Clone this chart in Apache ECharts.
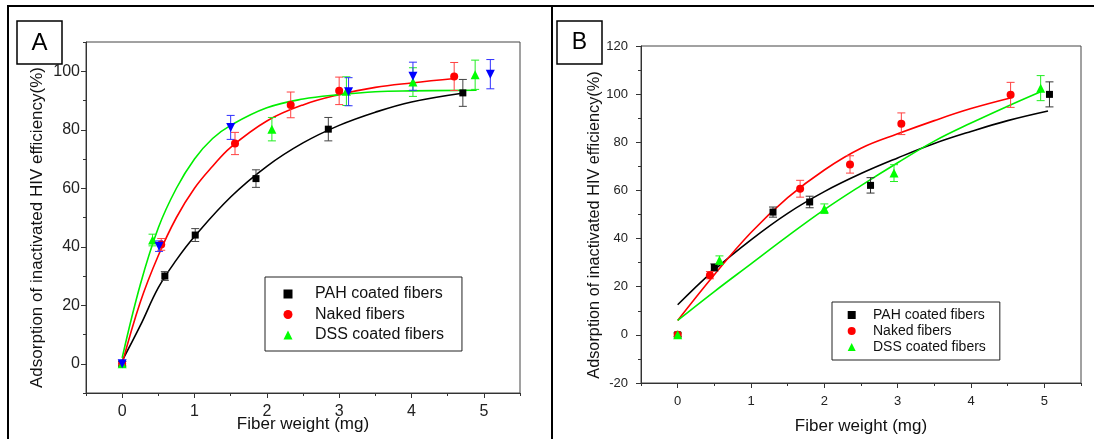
<!DOCTYPE html>
<html>
<head>
<meta charset="utf-8">
<script src="https://cdn.jsdelivr.net/npm/echarts@6/dist/echarts.min.js"></script>
<style>
  html, body { margin: 0; padding: 0; background: #fff; }
  #chart { width: 1094px; height: 439px; }
</style>
</head>
<body>
<div id="chart"></div>
<script>
// panel A measured points: x (mg), y (%), error
var pahAX = [0, 0.59, 1.01, 1.85, 2.85, 4.71];
var pahAY = [0, 30, 44, 63.3, 80.2, 92.6];
var pahAErr = [0.8, 1.5, 2.2, 3, 4, 4.6];
var nakedAX = [0, 0.54, 1.56, 2.33, 3.0, 4.59];
var nakedAY = [0, 40.8, 75.3, 88.5, 93.3, 98.2];
var nakedAErr = [0.8, 2, 3.8, 4.4, 4.7, 4.8];
var dssAX = [0, 0.42, 2.07, 3.1, 4.02, 4.88];
var dssAY = [0, 42.3, 80.2, 93.2, 96.3, 98.8];
var dssAErr = [0.8, 2, 4, 4.9, 4.9, 5];
var blueAX = [0, 0.51, 1.5, 3.13, 4.02, 5.09];
var blueAY = [0, 40.2, 80.8, 93, 98.3, 99];
var blueAErr = [0.8, 1.8, 4.1, 4.8, 4.8, 5];

// panel A fitted curves
var pahFitAX = [0, 0.25, 0.5, 0.75, 1, 1.5, 2, 2.5, 3, 3.5, 4, 4.7];
var pahFitAY = [1, 13, 26, 35.5, 43.5, 57, 67.5, 75.5, 81.5, 86, 89.5, 92.5];
var nakedFitAX = [0, 0.25, 0.5, 0.75, 1, 1.25, 1.5, 2, 2.5, 3, 3.5, 4, 4.6];
var nakedFitAY = [0, 21, 37, 50, 60, 67.5, 74, 83, 88.5, 92, 94.5, 96, 97.5];
var dssFitAX = [0, 0.25, 0.5, 0.75, 1, 1.25, 1.5, 2, 2.5, 3, 3.5, 4, 4.9];
var dssFitAY = [2, 27, 46.5, 60, 70, 77, 81.5, 87.5, 90.5, 92, 93, 93.3, 93.5];

// panel B measured points
var pahBX = [0, 0.5, 1.3, 1.8, 2.63, 5.07];
var pahBY = [0, 28, 51, 55.2, 62.1, 99.9];
var pahBErr = [0.8, 1.5, 2.1, 2.4, 3.2, 5.2];
var nakedBX = [0, 0.44, 1.67, 2.35, 3.05, 4.54];
var nakedBY = [0, 24.8, 60.7, 70.8, 87.7, 99.7];
var nakedBErr = [0.8, 1.5, 3.5, 3.6, 4.5, 5.2];
var dssBX = [0, 0.57, 2.0, 2.95, 4.95];
var dssBY = [0, 31, 52.4, 67.2, 102.5];
var dssBErr = [0.8, 1.8, 2, 3.5, 5.2];

// panel B fitted curves
var pahFitBX = [0, 0.5, 1, 1.5, 2, 2.5, 3, 3.5, 4, 4.5, 5.05];
var pahFitBY = [12.5, 27, 39.5, 50.5, 59.5, 67, 73.5, 79.5, 84.5, 89, 93];
var nakedFitBX = [0, 0.5, 1, 1.5, 2, 2.5, 3, 3.5, 4, 4.55];
var nakedFitBY = [6, 25, 42.5, 57, 68.5, 77.5, 83.5, 89, 94, 98.5];
var dssFitBX = [0, 0.5, 1, 1.5, 2, 2.5, 3, 3.5, 4, 4.5, 4.95];
var dssFitBY = [6, 18, 29.5, 41, 52, 62, 71.5, 80.5, 88, 95, 101];

var xTicks = [0, 1, 2, 3, 4, 5];
var xMinorTicks = [-0.5, 0.5, 1.5, 2.5, 3.5, 4.5, 5.5];
var yTicksA = [0, 20, 40, 60, 80, 100];
var yMinorA = [-10, 10, 30, 50, 70, 90, 110];
var yTicksB = [-20, 0, 20, 40, 60, 80, 100, 120];
var yMinorB = [-10, 10, 30, 50, 70, 90, 110];

var names = ['PAH coated fibers', 'Naked fibers', 'DSS coated fibers'];
var FONT = 'Liberation Sans, Arial, sans-serif';

function zip(a, b, c) {
    var out = [];
    for (var i = 0; i < a.length; i++) {
        out.push(c ? [a[i], b[i], c[i]] : [a[i], b[i]]);
    }
    return out;
}

function xAxes(grid, labelSize, labelMargin, nameGap) {
    return [{
        gridIndex: grid, type: 'value', position: 'bottom', min: -0.5, max: 5.5, interval: 0.5,
        name: 'Fiber weight (mg)', nameLocation: 'middle', nameGap: nameGap, nameMoveOverlap: false,
        nameTextStyle: { fontSize: 17, color: '#111', fontFamily: FONT },
        axisLine: { onZero: false, lineStyle: { color: '#333', width: 1 } },
        axisTick: { customValues: xTicks, length: 5, lineStyle: { color: '#333' } },
        axisLabel: { customValues: xTicks, fontSize: labelSize, color: '#222', margin: labelMargin, fontFamily: FONT },
        splitLine: { show: false }
    }, {
        gridIndex: grid, type: 'value', position: 'bottom', min: -0.5, max: 5.5, interval: 0.5,
        axisLine: { show: false, onZero: false },
        axisTick: { customValues: xMinorTicks, length: 3, lineStyle: { color: '#333' } },
        axisLabel: { show: false },
        splitLine: { show: false }
    }];
}

function yAxes(grid, min, max, ticks, minor, labelSize, labelMargin, nameGap, nameSize, shift) {
    return [{
        gridIndex: grid, type: 'value', position: 'left', min: min, max: max, interval: 10,
        name: 'Adsorption of inactivated HIV efficiency(%)', nameLocation: 'middle', nameGap: nameGap,
        nameTextStyle: { fontSize: nameSize, color: '#111', fontFamily: FONT, padding: [0, shift, 0, 0] },
        axisLine: { onZero: false, lineStyle: { color: '#333', width: 1 } },
        axisTick: { customValues: ticks, length: 5, lineStyle: { color: '#333' } },
        axisLabel: { customValues: ticks, fontSize: labelSize, color: '#222', margin: labelMargin, fontFamily: FONT },
        splitLine: { show: false }
    }, {
        gridIndex: grid, type: 'value', position: 'left', min: min, max: max, interval: 10,
        axisLine: { show: false, onZero: false },
        axisTick: { customValues: minor, length: 3, lineStyle: { color: '#333' } },
        axisLabel: { show: false },
        splitLine: { show: false }
    }];
}

function fitLine(xi, yi, xs, ys, color) {
    return {
        type: 'line', xAxisIndex: xi, yAxisIndex: yi, data: zip(xs, ys),
        smooth: 0.4, showSymbol: false, silent: true, z: 2,
        lineStyle: { color: color, width: 1.6 }
    };
}

function errBars(xi, yi, xs, ys, es, color) {
    return {
        type: 'custom', xAxisIndex: xi, yAxisIndex: yi, data: zip(xs, ys, es), silent: true, z: 3,
        encode: { x: 0, y: 1 },
        renderItem: function (params, api) {
            var x = api.value(0), y = api.value(1), e = api.value(2);
            var top = api.coord([x, y + e]);
            var bot = api.coord([x, y - e]);
            var st = { stroke: color, lineWidth: 1 };
            return {
                type: 'group', children: [
                    { type: 'line', shape: { x1: top[0], y1: top[1], x2: bot[0], y2: bot[1] }, style: st },
                    { type: 'line', shape: { x1: top[0] - 4, y1: top[1], x2: top[0] + 4, y2: top[1] }, style: st },
                    { type: 'line', shape: { x1: bot[0] - 4, y1: bot[1], x2: bot[0] + 4, y2: bot[1] }, style: st }
                ]
            };
        }
    };
}

function points(name, xi, yi, xs, ys, color, symbol, size, rotate) {
    return {
        name: name, type: 'scatter', xAxisIndex: xi, yAxisIndex: yi, data: zip(xs, ys),
        symbol: symbol, symbolSize: size, symbolRotate: rotate || 0, z: 4,
        itemStyle: { color: color, opacity: 1 }
    };
}

// legend with square icons; textPad puts the gap between marker and text
function legendBox(left, top, icon, gap, pad, textPad, fontSize, lineHeight) {
    return {
        data: names, orient: 'vertical', left: left, top: top,
        itemWidth: icon, itemHeight: icon, itemGap: gap,
        padding: pad,
        borderColor: '#222', borderWidth: 1,
        formatter: function (n) { return '{t|' + n + '}'; },
        textStyle: {
            fontSize: fontSize, lineHeight: lineHeight, color: '#111', fontFamily: FONT,
            rich: { t: { fontSize: fontSize, lineHeight: lineHeight, color: '#111', fontFamily: FONT, padding: [0, 0, 0, textPad] } }
        }
    };
}

var chart = echarts.init(document.getElementById('chart'), null, { renderer: 'canvas' });

var option = {
    backgroundColor: '#fff',
    animation: false,
    grid: [
        { left: 86, top: 42, width: 434, height: 351, show: true, borderColor: '#444', borderWidth: 1, outerBoundsMode: 'none' },
        { left: 641, top: 46, width: 440, height: 337, show: true, borderColor: '#444', borderWidth: 1, outerBoundsMode: 'none' }
    ],
    xAxis: xAxes(0, 16, 11, 23).concat(xAxes(1, 13, 12, 35)),
    yAxis: yAxes(0, -10, 110, yTicksA, yMinorA, 16, 6, 40, 17, 20)
        .concat(yAxes(1, -20, 120, yTicksB, yMinorB, 13, 13, 27, 16.3, 21)),
    legend: [
        legendBox(265, 277, 9, 0.5, [7, 18, 6, 18.5], 17.5, 16, 20),
        legendBox(832, 302, 8, 0, [5, 14, 5, 15.7], 12.3, 14, 16)
    ],
    graphic: [
        { type: 'line', shape: { x1: 7, y1: 6, x2: 1094, y2: 6 }, style: { stroke: '#000', lineWidth: 2 } },
        { type: 'line', shape: { x1: 8, y1: 6, x2: 8, y2: 439 }, style: { stroke: '#000', lineWidth: 2 } },
        { type: 'line', shape: { x1: 552, y1: 6, x2: 552, y2: 439 }, style: { stroke: '#000', lineWidth: 2 } },
        { type: 'rect', shape: { x: 17, y: 21, width: 45, height: 43 }, style: { fill: '#fff', stroke: '#000', lineWidth: 1.5 } },
        { type: 'text', x: 39.5, y: 43, style: { text: 'A', fontSize: 24, fontFamily: FONT, fill: '#000', align: 'center', verticalAlign: 'middle' } },
        { type: 'rect', shape: { x: 557, y: 21, width: 45, height: 43 }, style: { fill: '#fff', stroke: '#000', lineWidth: 1.5 } },
        { type: 'text', x: 579.5, y: 43, style: { text: 'B', fontSize: 23, fontFamily: FONT, fill: '#000', align: 'center', verticalAlign: 'middle' } }
    ],
    series: [
        fitLine(0, 0, pahFitAX, pahFitAY, '#000'),
        fitLine(0, 0, nakedFitAX, nakedFitAY, '#ff0000'),
        fitLine(0, 0, dssFitAX, dssFitAY, '#00ee00'),
        errBars(0, 0, pahAX, pahAY, pahAErr, '#444'),
        errBars(0, 0, nakedAX, nakedAY, nakedAErr, '#ff4040'),
        errBars(0, 0, dssAX, dssAY, dssAErr, '#22ee22'),
        errBars(0, 0, blueAX, blueAY, blueAErr, '#3030ff'),
        points(names[0], 0, 0, pahAX, pahAY, '#000', 'rect', 7),
        points(names[1], 0, 0, nakedAX, nakedAY, '#ff0000', 'circle', 8),
        points(names[2], 0, 0, dssAX, dssAY, '#00ff00', 'triangle', 9),
        points('blue', 0, 0, blueAX, blueAY, '#0000ff', 'triangle', 9, 180),

        fitLine(2, 2, pahFitBX, pahFitBY, '#000'),
        fitLine(2, 2, nakedFitBX, nakedFitBY, '#ff0000'),
        fitLine(2, 2, dssFitBX, dssFitBY, '#00ee00'),
        errBars(2, 2, pahBX, pahBY, pahBErr, '#333'),
        errBars(2, 2, nakedBX, nakedBY, nakedBErr, '#ff4040'),
        errBars(2, 2, dssBX, dssBY, dssBErr, '#22ee22'),
        points(names[0], 2, 2, pahBX, pahBY, '#000', 'rect', 7),
        points(names[1], 2, 2, nakedBX, nakedBY, '#ff0000', 'circle', 8),
        points(names[2], 2, 2, dssBX, dssBY, '#00ff00', 'triangle', 9)
    ]
};

chart.setOption(option);
</script>
</body>
</html>
